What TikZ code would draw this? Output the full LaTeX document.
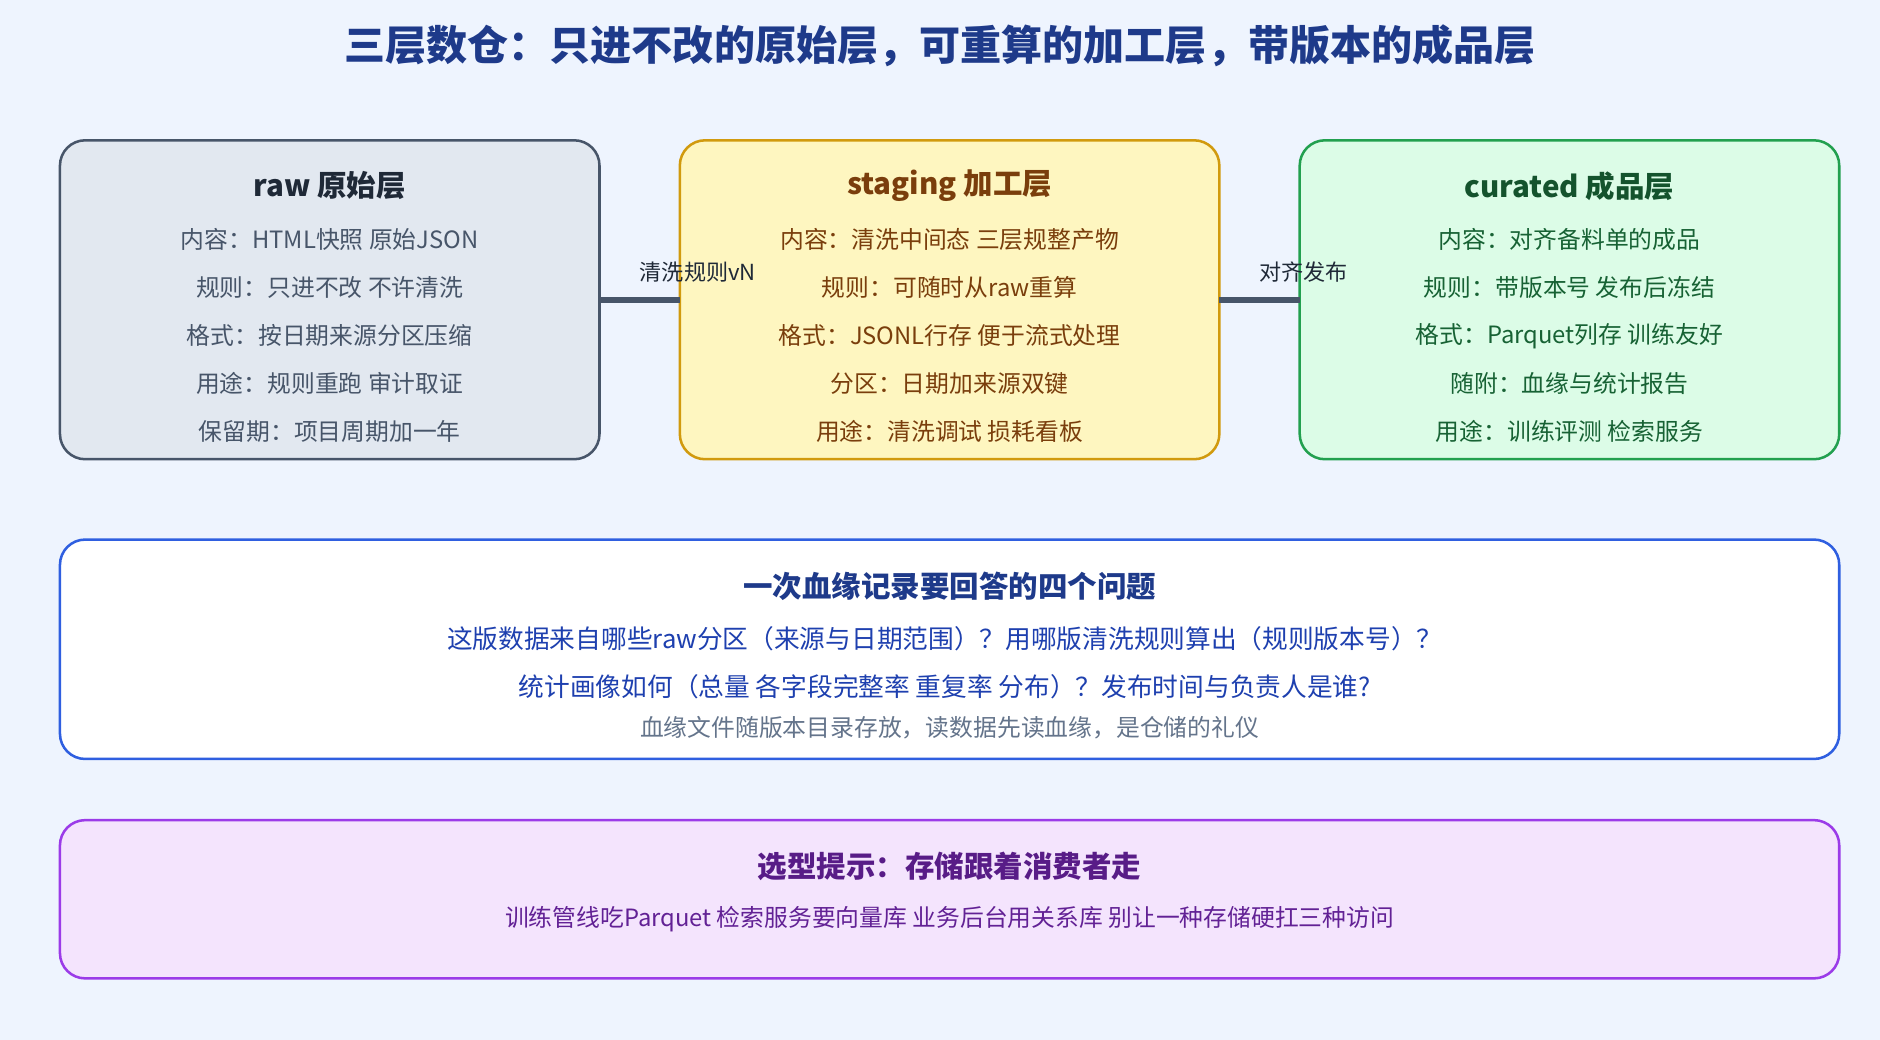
\documentclass[tikz,border=0pt]{standalone}
\usepackage{fontspec}
\setmainfont{Noto Sans CJK SC}
\usetikzlibrary{positioning}
\definecolor{bgc}{HTML}{EEF4FE}
\definecolor{rawf}{HTML}{E2E8F0}\definecolor{rawd}{HTML}{475569}\definecolor{rawt}{HTML}{1F2937}
\definecolor{stgf}{HTML}{FEF6C0}\definecolor{stgd}{HTML}{D19A0E}\definecolor{stgt}{HTML}{7A3E0C}
\definecolor{curf}{HTML}{DCFCE7}\definecolor{curd}{HTML}{22A04F}\definecolor{curt}{HTML}{14532D}
\definecolor{linf}{HTML}{FFFFFF}\definecolor{lind}{HTML}{2F5FE0}\definecolor{lint}{HTML}{1E3A8A}\definecolor{linb}{HTML}{1E40AF}
\definecolor{self}{HTML}{F4E4FD}\definecolor{seld}{HTML}{9B3BE8}\definecolor{selt}{HTML}{581C87}
\definecolor{gry}{HTML}{64748B}\definecolor{conn}{HTML}{475569}
\begin{document}
\begin{tikzpicture}[x=0.02cm,y=-0.02cm]
\tikzset{
  box/.style={draw, line width=1.2pt, rounded corners=12pt},
  head/.style={font=\fontsize{14}{16}\selectfont\bfseries},
  line/.style={font=\fontsize{11.3}{13}\selectfont},
  wide/.style={font=\fontsize{12.2}{14}\selectfont},
  small/.style={font=\fontsize{10.5}{12}\selectfont},
}
\fill[bgc] (0,0) rectangle (1568,867);
\node[font=\fontsize{19.5}{22}\selectfont\bfseries, text=lint] (title) at (784,38) {三层数仓：只进不改的原始层，可重算的加工层，带版本的成品层};
% three layers
\draw[box, fill=rawf, draw=rawd] (50,117) rectangle (500,383);
\draw[box, fill=stgf, draw=stgd] (567,117) rectangle (1017,383);
\draw[box, fill=curf, draw=curd] (1084,117) rectangle (1534,383);
\coordinate (rawR) at (500,250); \coordinate (stgL) at (567,250);
\coordinate (stgR) at (1017,250); \coordinate (curL) at (1084,250);
\draw[conn, line width=3pt] (rawR) -- (stgL);
\draw[conn, line width=3pt] (stgR) -- (curL);
\node[small, text=rawt] (l1) at (582,227) {清洗规则vN};
\node[small, text=rawt] (l2) at (1087,227) {对齐发布};
\node[head, text=rawt] (rawh) at (275,155) {raw 原始层};
\foreach \t [count=\i] in {内容：HTML快照 原始JSON,规则：只进不改 不许清洗,格式：按日期来源分区压缩,用途：规则重跑 审计取证,保留期：项目周期加一年}
  \node[line, text=rawd] (raw\i) at (275,160+40*\i) {\t};
\node[head, text=stgt] (stgh) at (792,155) {staging 加工层};
\foreach \t [count=\i] in {内容：清洗中间态 三层规整产物,规则：可随时从raw重算,格式：JSONL行存 便于流式处理,分区：日期加来源双键,用途：清洗调试 损耗看板}
  \node[line, text=stgt] (stg\i) at (792,160+40*\i) {\t};
\node[head, text=curt] (curh) at (1309,155) {curated 成品层};
\foreach \t [count=\i] in {内容：对齐备料单的成品,规则：带版本号 发布后冻结,格式：Parquet列存 训练友好,随附：血缘与统计报告,用途：训练评测 检索服务}
  \node[line, text=curt!80!curd] (cur\i) at (1309,160+40*\i) {\t};
% lineage
\draw[box, fill=linf, draw=lind] (50,450) rectangle (1534,633);
\node[head, text=lint] (linh) at (792,489) {一次血缘记录要回答的四个问题};
\node[wide, text=linb] (lin1) at (788,533) {这版数据来自哪些raw分区（来源与日期范围）？用哪版清洗规则算出（规则版本号）？};
\node[wide, text=linb] (lin2) at (788,573) {统计画像如何（总量 各字段完整率 重复率 分布）？发布时间与负责人是谁?};
\node[line, text=gry] (lin3) at (792,607) {血缘文件随版本目录存放，读数据先读血缘，是仓储的礼仪};
% selection hint
\draw[box, fill=self, draw=seld] (50,684) rectangle (1534,816);
\node[head, text=selt] (selh) at (792,723) {选型提示：存储跟着消费者走};
\node[line, text=selt!85!seld] (sel1) at (792,767) {训练管线吃Parquet 检索服务要向量库 业务后台用关系库 别让一种存储硬扛三种访问};
\end{tikzpicture}
\end{document}
